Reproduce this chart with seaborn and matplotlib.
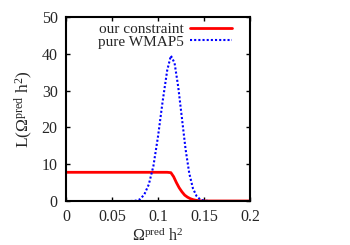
import numpy as np
import pandas as pd
import matplotlib
matplotlib.use("Agg")
import matplotlib.pyplot as plt
import seaborn as sns

# values
x_red = [0.0, 0.02, 0.04, 0.06, 0.08, 0.10, 0.110, 0.114, 0.117, 0.120, 0.123,
         0.126, 0.129, 0.132, 0.135, 0.138, 0.141, 0.144, 0.147, 0.150, 0.17, 0.2]
y_red = [7.8, 7.8, 7.8, 7.8, 7.8, 7.8, 7.8, 7.7, 6.6, 5.0, 3.6,
         2.5, 1.6, 1.05, 0.65, 0.38, 0.2, 0.1, 0.04, 0.0, 0.0, 0.0]

x_blue = [0.070, 0.075, 0.080, 0.085, 0.090, 0.095, 0.100, 0.105, 0.110, 0.114,
          0.118, 0.122, 0.126, 0.130, 0.134, 0.138, 0.142, 0.146, 0.150, 0.155]
y_blue = [0.0, 0.05, 0.4, 1.7, 4.5, 9.5, 17.5, 27.0, 35.5, 39.5,
          37.5, 31.0, 22.5, 14.0, 7.5, 3.4, 1.3, 0.4, 0.1, 0.0]

x_ticks = [0, 0.05, 0.1, 0.15, 0.2]
x_ticklabels = ["0", "0.05", "0.1", "0.15", "0.2"]
y_ticks = [0, 10, 20, 30, 40, 50]

sns.set_style("ticks")
plt.rcParams['font.family'] = ['Liberation Serif', 'DejaVu Serif']
plt.rcParams['mathtext.fontset'] = 'custom'
plt.rcParams['mathtext.rm'] = 'Liberation Serif'
plt.rcParams['mathtext.it'] = 'Liberation Serif:italic'
plt.rcParams['mathtext.default'] = 'regular'

df_red = pd.DataFrame({'x': x_red, 'y': y_red})
df_blue = pd.DataFrame({'x': x_blue, 'y': y_blue})

fig = plt.figure(figsize=(3.5, 2.45), dpi=100)
ax = fig.add_axes([66 / 350, 1 - 201 / 245, 184 / 350, 184 / 245])

sns.lineplot(data=df_red, x='x', y='y', ax=ax, color='red', linewidth=2.0,
             label='our constraint')
sns.lineplot(data=df_blue, x='x', y='y', ax=ax, color='blue', linewidth=1.5,
             linestyle=(0, (1, 1)), label='pure WMAP5')

ax.set_xlim(0, 0.2)
ax.set_ylim(0, 50)
ax.set_xticks(x_ticks)
ax.set_xticklabels(x_ticklabels)
ax.set_yticks(y_ticks)
ax.tick_params(direction='in', length=3, width=1, labelsize=11.5, top=True, right=True,
               pad=6, color='black')
for s in ax.spines.values():
    s.set_linewidth(1.5)
    s.set_color('black')

ax.set_xlabel(r'$\Omega^{pred}\ h^2$', fontsize=11.5, labelpad=1)
ax.set_ylabel(r'L($\Omega^{pred}\ h^2$)', fontsize=12.5, labelpad=5)

leg = ax.legend(loc='upper right', bbox_to_anchor=(0.933, 1.005), frameon=False,
                fontsize=11, markerfirst=False, handlelength=2.7,
                handletextpad=0.4, borderaxespad=0.0, labelspacing=-0.05)

fig.savefig('out.png', dpi=100)
